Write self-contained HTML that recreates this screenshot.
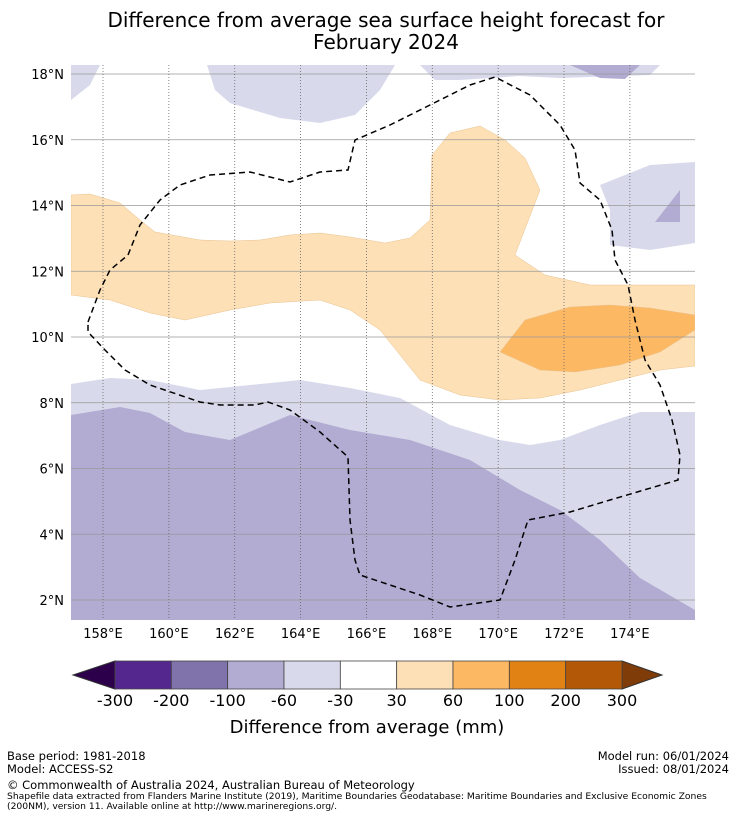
<!DOCTYPE html>
<html><head><meta charset="utf-8"><style>
body{margin:0;background:#fff;font-family:"Liberation Sans","DejaVu Sans",sans-serif;}
svg text{font-family:"DejaVu Sans","Liberation Sans",sans-serif;}
</style></head><body>
<svg id="c" width="736" height="816" viewBox="0 0 736 816">
<rect width="736" height="816" fill="#fff"/>
<text x="386" y="27" font-size="20" text-anchor="middle">Difference from average sea surface height forecast for</text>
<text x="386" y="49" font-size="20" text-anchor="middle">February 2024</text>
<defs><clipPath id="pc"><rect x="71" y="65" width="624" height="555"/></clipPath></defs>
<g id="map" clip-path="url(#pc)"></g>
<g id="axes"></g>
<g id="cbar"></g>
<text x="367" y="733" font-size="18" text-anchor="middle">Difference from average (mm)</text>
<g font-size="11.5">
<text x="7" y="760">Base period: 1981-2018</text>
<text x="7" y="773">Model: ACCESS-S2</text>
<text x="729" y="760" text-anchor="end">Model run: 06/01/2024</text>
<text x="729" y="773" text-anchor="end">Issued: 08/01/2024</text>
<text x="7" y="789">© Commonwealth of Australia 2024, Australian Bureau of Meteorology</text>
<text x="7" y="799" font-size="9.2">Shapefile data extracted from Flanders Marine Institute (2019), Maritime Boundaries Geodatabase: Maritime Boundaries and Exclusive Economic Zones</text>
<text x="7" y="809" font-size="9.2">(200NM), version 11. Available online at http://www.marineregions.org/.</text>
</g>
</svg>
<script>
const lonTicks=[158,160,162,164,166,168,170,172,174];
const latTicks=[2,4,6,8,10,12,14,16,18];
const levels=[-300,-200,-100,-60,-30,30,60,100,200,300];
const levelColors=["#54278f","#8073ac","#b2abd2","#d8daeb","#ffffff","#fee0b6","#fdb863","#e08214","#b35806"];
const NS="http://www.w3.org/2000/svg";
const X=lon=>103+(lon-158)*32.93;
const Y=lat=>74+(18-lat)*32.875;
function el(t,a,p){const e=document.createElementNS(NS,t);for(const k in a)e.setAttribute(k,a[k]);p.appendChild(e);return e;}
const map=document.getElementById('map');
el('rect',{x:71,y:65,width:624,height:555,fill:'#fff'},map);
const shapes=[
 ["#d8daeb","contour-lavender-south",[[71,384],[110,378],[150,380],[200,390],[250,385],[300,380],[350,388],[400,398],[450,425],[500,440],[530,445],[560,440],[600,425],[640,412],[695,412],[695,620],[71,620]]],
 ["#b2abd2","contour-purple-south",[[71,415],[120,407],[150,413],[185,432],[230,440],[290,415],[350,430],[410,440],[470,460],[520,490],[560,510],[600,540],[640,578],[695,610],[695,620],[71,620]]],
 ["#fee0b6","contour-orange-band",[[71,195],[90,194],[120,203],[140,220],[155,232],[200,240],[230,241],[260,240],[290,235],[320,233],[350,237],[385,243],[410,238],[430,220],[432,155],[450,133],[480,126],[505,140],[525,158],[540,190],[515,255],[545,275],[590,285],[695,285],[695,366],[660,370],[620,380],[580,390],[540,398],[500,400],[460,395],[420,380],[380,330],[350,310],[320,300],[270,303],[230,310],[185,320],[150,313],[110,300],[71,295]]],
 ["#fdb863","contour-dark-orange",[[500,352],[525,320],[570,307],[610,305],[650,308],[695,315],[695,330],[660,352],[620,365],[575,372],[540,370]]],
 ["#d8daeb","contour-lavender-nw",[[71,65],[100,65],[90,85],[71,100]]],
 ["#d8daeb","contour-lavender-north",[[207,65],[395,65],[380,90],[355,115],[320,123],[280,118],[230,103],[215,90]]],
 ["#d8daeb","contour-lavender-ne",[[420,65],[660,65],[650,75],[560,78],[520,76],[460,80],[435,80]]],
 ["#b2abd2","contour-purple-ne",[[570,65],[640,65],[625,79],[600,78]]],
 ["#d8daeb","contour-lavender-east",[[600,185],[650,165],[695,162],[695,243],[650,250],[610,245],[610,210]]],
 ["#b2abd2","contour-purple-east",[[655,222],[680,190],[680,222]]]
];
shapes.forEach(s=>{const p=el('polygon',{points:s[2].map(q=>q.join(',')).join(' '),fill:s[0],stroke:s[0]==="#fee0b6"||s[0]==="#fdb863"?"#e8c28f":"none","stroke-width":0.5},map);
});
latTicks.forEach(v=>{const l=el('line',{x1:71,x2:695,y1:Y(v),y2:Y(v),stroke:'#999','stroke-width':0.8},map);});
lonTicks.forEach(v=>{const l=el('line',{x1:X(v),x2:X(v),y1:65,y2:620,stroke:'#666','stroke-width':0.8,'stroke-dasharray':'1,2'},map);});
const eez=[[88,322],[100,290],[110,270],[128,255],[140,225],[160,200],[180,185],[210,175],[250,172],[290,182],[320,172],[348,170],[355,140],[390,125],[430,105],[470,85],[495,77],[530,95],[560,125],[575,150],[580,183],[600,200],[612,230],[615,260],[628,285],[635,320],[645,360],[660,385],[672,420],[680,455],[678,480],[610,500],[570,512],[528,520],[515,560],[500,600],[450,607],[420,595],[390,585],[360,575],[355,560],[350,520],[348,457],[320,432],[290,410],[268,402],[255,405],[220,405],[200,402],[150,385],[125,370],[105,350],[88,332]];
const b=el('polygon',{points:eez.map(q=>q.join(',')).join(' '),fill:'none',stroke:'#000','stroke-width':1.5,'stroke-dasharray':'6,4'},map);

const ax=document.getElementById('axes');
latTicks.forEach(v=>{const t=el('text',{x:64,y:Y(v)+5,'font-size':13,'text-anchor':'end'},ax);t.textContent=v+'°N';
});
lonTicks.forEach(v=>{const t=el('text',{x:X(v),y:638,'font-size':13,'text-anchor':'middle'},ax);t.textContent=v+'°E';
});
const cb=document.getElementById('cbar');
const c0=115,c1=622,cy=661,ch=28,bw=(c1-c0)/levelColors.length;
const lt=el('polygon',{points:`${c0},${cy} 73,${cy+ch/2} ${c0},${cy+ch}`,fill:'#2d004b',stroke:'#333'},cb);

const rt=el('polygon',{points:`${c1},${cy} 662,${cy+ch/2} ${c1},${cy+ch}`,fill:'#7f3b08',stroke:'#333'},cb);

levelColors.forEach((c,i)=>{const r=el('rect',{x:c0+i*bw,y:cy,width:bw,height:ch,fill:c,stroke:'#444','stroke-width':0.8},cb);
});
levels.forEach((v,i)=>{const t=el('text',{x:c0+i*bw,y:706,'font-size':16,'text-anchor':'middle'},cb);t.textContent=v;
});
</script>
</body></html>
